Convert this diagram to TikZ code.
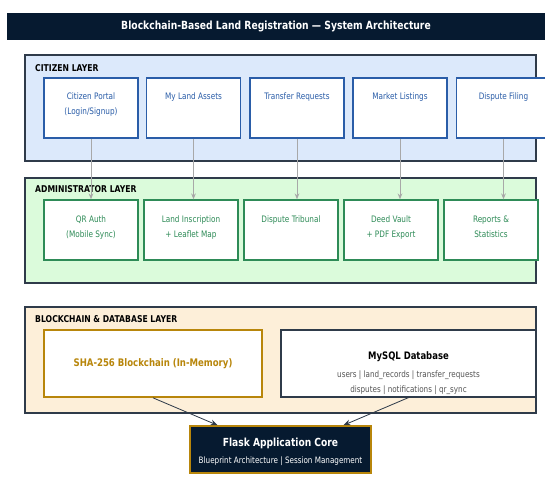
\documentclass[tikz,border=0pt]{standalone}
\usepackage{fontspec}
\setmainfont{DejaVu Sans}[FakeStretch=0.82]
\usepackage{xcolor}
\usetikzlibrary{calc, arrows.meta}

\definecolor{navy}{HTML}{061A30}
\definecolor{citfill}{HTML}{DCE9FB}
\definecolor{citblue}{HTML}{2A5DA8}
\definecolor{admfill}{HTML}{DBFBDB}
\definecolor{admgreen}{HTML}{2E8B57}
\definecolor{bcfill}{HTML}{FDEFD9}
\definecolor{gold}{HTML}{B8860B}
\definecolor{layerline}{HTML}{2F3B4A}
\definecolor{linkgray}{HTML}{A8A8A8}
\definecolor{tablegray}{HTML}{555555}

\begin{document}
\begin{tikzpicture}[
        x=0.03cm, y=-0.03cm,
        layer/.style={draw=layerline, line width=1.1pt},
        layertitle/.style={anchor=west, font=\bfseries\fontsize{8}{9}\selectfont, text=black, inner sep=0pt},
        box/.style={draw=#1, line width=1.2pt, fill=white, minimum width=2.82cm, minimum height=1.8cm, inner sep=0pt},
        boxtext/.style={anchor=north, align=center, text=#1, inner sep=0pt,
            font=\fontsize{7.6}{12.8}\selectfont},
        uplink/.style={draw=linkgray, line width=0.8pt, -{Stealth[length=5pt, width=4pt]}},
        corelink/.style={draw=layerline, line width=0.7pt, -{Stealth[length=6pt, width=5pt]}}
    ]
        \useasboundingbox (0,0) rectangle (545,497);
        % title bar
        \node[fill=navy, minimum width=16.14cm, minimum height=0.81cm, text=white,
            font=\bfseries\fontsize{9.6}{11}\selectfont] (title) at (276,26.5)
            {Blockchain-Based Land Registration — System Architecture};

        % layers
        \draw[layer, fill=citfill] (25,55) rectangle (536,161);
        \node[layertitle] (citlabel) at (35,68) {CITIZEN LAYER};
        \draw[layer, fill=admfill] (25,178) rectangle (536,283);
        \node[layertitle] (admlabel) at (35,189) {ADMINISTRATOR LAYER};
        \draw[layer, fill=bcfill] (25,307) rectangle (536,413);
        \node[layertitle] (bclabel) at (35,319) {BLOCKCHAIN \& DATABASE LAYER};

        % citizen layer
        \foreach \n/\x/\t in {1/91/{Citizen Portal\\(Login/Signup)}, 2/193.5/{My Land Assets},
                3/297/{Transfer Requests}, 4/400/{Market Listings}, 5/503.5/{Dispute Filing}}{
            \node[box=citblue, label={[boxtext=citblue, yshift=-0.45cm]north:\t}] (cit\n) at (\x,108) {};
        }

        % administrator layer
        \foreach \n/\x/\t in {1/91/{QR Auth\\(Mobile Sync)}, 2/191/{Land Inscription\\+ Leaflet Map},
                3/291/{Dispute Tribunal}, 4/391/{Deed Vault\\+ PDF Export}, 5/491/{Reports \&\\Statistics}}{
            \node[box=admgreen, label={[boxtext=admgreen, yshift=-0.48cm]north:\t}] (adm\n) at (\x,230) {};
        }

        \foreach \n in {1,...,5}{
            \draw[uplink] (cit\n.south) -- (cit\n.south |- adm\n.north);
        }

        % blockchain and database layer
        \node[draw=gold, line width=1.4pt, fill=white, minimum width=6.54cm, minimum height=2.01cm,
            text=gold, font=\bfseries\fontsize{8.9}{10}\selectfont] (chain) at (153,363.5)
            {SHA-256 Blockchain (In-Memory)};
        \node[draw=layerline, line width=1pt, fill=white, minimum width=7.65cm, minimum height=2.01cm,
            inner sep=0pt, label={[align=center, inner sep=0pt, yshift=-0.3cm]center:
            {\bfseries\fontsize{8.8}{10}\selectfont MySQL Database}\\[3pt]
            {\color{tablegray}\fontsize{7.5}{8}\selectfont users | land\_records | transfer\_requests}\\[1pt]
            {\color{tablegray}\fontsize{7.5}{8}\selectfont disputes | notifications | qr\_sync}}] (mysql) at (408.5,363.5) {};

        % application core
        \node[fill=navy, draw=gold, line width=1.3pt, minimum width=5.43cm, minimum height=1.41cm,
            inner sep=0pt, label={[align=center, text=white, inner sep=0pt, yshift=-0.07cm]center:
            {\bfseries\fontsize{9.5}{10}\selectfont Flask Application Core}\\[3pt]
            {\fontsize{7.5}{8}\selectfont Blueprint Architecture | Session Management}}] (flask) at (280.5,449.5) {};

        \coordinate (flaskleft) at ($(flask.north west)!0.155!(flask.north east)$);
        \coordinate (flaskright) at ($(flask.north west)!0.845!(flask.north east)$);
        \draw[corelink] (chain.south) -- (flaskleft);
        \draw[corelink] (mysql.south) -- (flaskright);
\end{tikzpicture}
\end{document}
